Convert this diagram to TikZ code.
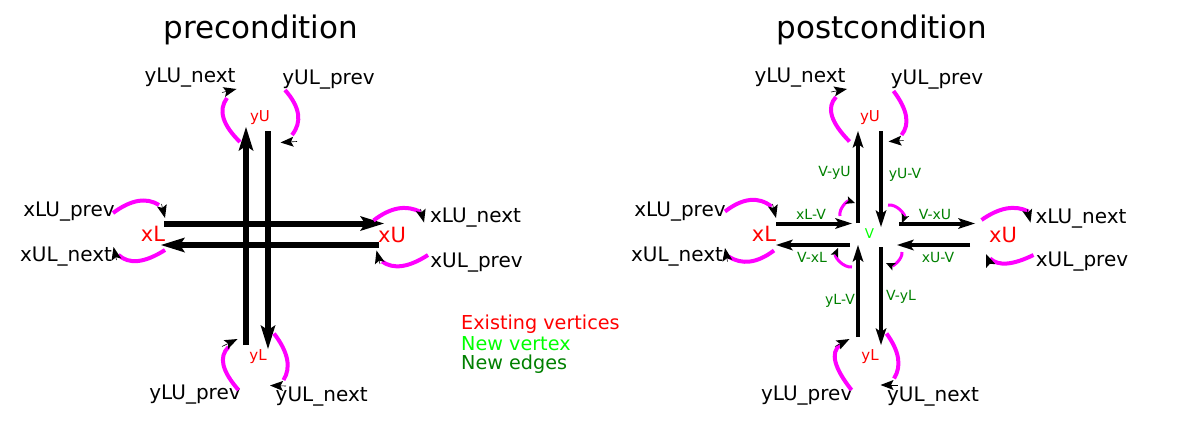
\documentclass[tikz,border=0pt]{standalone}
\usepackage{fontspec}
\setmainfont{DejaVu Sans}
\usetikzlibrary{arrows.meta,calc}
\definecolor{magentaA}{RGB}{255,0,255}
\definecolor{redA}{RGB}{255,0,0}
\definecolor{limeA}{RGB}{0,255,0}
\definecolor{greenA}{RGB}{0,128,0}
\begin{document}
\begin{tikzpicture}[x=1pt,y=-1pt,
  title/.style={font=\fontsize{31}{36}\selectfont, inner sep=0},
  lab/.style={font=\fontsize{20}{24}\selectfont, inner sep=0},
  vbig/.style={text=redA, font=\fontsize{21}{24}\selectfont, inner sep=0},
  vsmall/.style={text=redA, font=\fontsize{15}{17}\selectfont, inner sep=0},
  vnew/.style={text=limeA, font=\fontsize{13.5}{16}\selectfont, inner sep=0},
  elab/.style={text=greenA, font=\fontsize{14}{16}\selectfont, inner sep=0},
  legend/.style={font=\fontsize{19.2}{22}\selectfont, inner sep=0, anchor=west},
  bigedge/.style={line width=6pt, -{Stealth[length=24pt,width=15pt,inset=5pt,line width=0pt]}},
  newedge/.style={line width=4pt, -{Stealth[length=17pt,width=11pt,inset=4pt,line width=0pt]}},
  magarc/.style={magentaA, line width=4pt},
  looptip/.style={black, line width=0.6pt, -{Stealth[length=13pt,width=10pt,inset=2.5pt,line width=0pt]}},
  smallloop/.style={magentaA, line width=3pt, -{Stealth[color=black,length=9pt,width=8pt,inset=2pt,line width=0pt]}}
]
\useasboundingbox (0,0) rectangle (1177,444);

% ---------- titles ----------
\node[title] (t1) at (261,30) {precondition};
\node[title] (t2) at (882,30) {postcondition};

% ---------- precondition ----------
\node[vsmall] (pyU) at (260,118) {yU};
\node[vsmall] (pyL) at (258,357) {yL};
\node[vbig] (pxL) at (153,233.5) {xL};
\node[vbig] (pxU) at (392,235) {xU};

\node[lab] (l1) at (190,78) {yLU\_next};
\node[lab] (l2) at (328.5,80) {yUL\_prev};
\node[lab] (l3) at (69,211.7) {xLU\_prev};
\node[lab] (l4) at (66,256.7) {xUL\_next};
\node[lab] (l5) at (475.5,218) {xLU\_next};
\node[lab] (l6) at (476.5,263) {xUL\_prev};
\node[lab] (l7) at (195,395) {yLU\_prev};
\node[lab] (l8) at (321.7,396.7) {yUL\_next};

\coordinate (pup0) at (246,345);  \coordinate (pup1) at (246,127);
\coordinate (pdn0) at (268,131);  \coordinate (pdn1) at (268,349);
\coordinate (prt0) at (164,223.5); \coordinate (prt1) at (384,223.5);
\coordinate (plt0) at (379,245);  \coordinate (plt1) at (161,245);
\draw[bigedge] (pup0) -- (pup1);
\draw[bigedge] (pdn0) -- (pdn1);
\draw[bigedge] (prt0) -- (prt1);
\draw[bigedge] (plt0) -- (plt1);

% ---------- legend ----------
\node[legend, text=redA] (g1) at (461,324) {Existing vertices};
\node[legend, text=limeA] (g2) at (461,344) {New vertex};
\node[legend, text=greenA] (g3) at (461,364) {New edges};

% ---------- postcondition ----------
\node[vsmall] (qyU) at (870,118) {yU};
\node[vsmall] (qyL) at (870,357) {yL};
\node[vbig] (qxL) at (764,234) {xL};
\node[vbig] (qxU) at (1003,235) {xU};
\node[vnew] (qV) at (869.5,233.5) {V};

\node[lab] (m1) at (800,78) {yLU\_next};
\node[lab] (m2) at (937,80) {yUL\_prev};
\node[lab] (m3) at (680,211.7) {xLU\_prev};
\node[lab] (m4) at (677,256.7) {xUL\_next};
\node[lab] (m5) at (1081,218.3) {xLU\_next};
\node[lab] (m6) at (1082,262) {xUL\_prev};
\node[lab] (m7) at (806.7,396) {yLU\_prev};
\node[lab] (m8) at (933,396.7) {yUL\_next};

\coordinate (qa0) at (858,223);   \coordinate (qa1) at (858,131);
\coordinate (qb0) at (881,131);   \coordinate (qb1) at (881,227);
\coordinate (qc0) at (776,223.5); \coordinate (qc1) at (852,223.5);
\coordinate (qd0) at (850,245);   \coordinate (qd1) at (776,245);
\coordinate (qe0) at (899,223.5); \coordinate (qe1) at (975,223.5);
\coordinate (qf0) at (970,245);   \coordinate (qf1) at (897,245);
\coordinate (qg0) at (858,337);   \coordinate (qg1) at (858,245);
\coordinate (qh0) at (881,247);   \coordinate (qh1) at (881,345);
\draw[newedge] (qa0) -- (qa1);
\draw[newedge] (qb0) -- (qb1);
\draw[newedge] (qc0) -- (qc1);
\draw[newedge] (qd0) -- (qd1);
\draw[newedge] (qe0) -- (qe1);
\draw[newedge] (qf0) -- (qf1);
\draw[newedge] (qg0) -- (qg1);
\draw[newedge] (qh0) -- (qh1);

\node[elab] (e1) at (834.5,173) {V-yU};
\node[elab] (e2) at (905,175) {yU-V};
\node[elab] (e3) at (811,214) {xL-V};
\node[elab] (e4) at (935,214) {V-xU};
\node[elab] (e5) at (812,257) {V-xL};
\node[elab] (e6) at (938,257.5) {xU-V};
\node[elab] (e7) at (840,300.5) {yL-V};
\node[elab] (e8) at (901,297) {V-yL};

% ---------- magenta half-edge arcs: start / apex / end / tip back / tip ----------
\foreach \n/\sx/\sy/\mx/\my/\ex/\ey/\bx/\by/\tx/\ty in {
  pa/240/142/223.5/118/227/98/222/92.5/236.5/89,
  pb/285/90/298/114/292/135/297/141.5/280.5/142.5,
  pc/113/213/138/201/159/205/161.5/204/165/218,
  pd/165/250/138/261/118.5/255/116.5/260/113.5/247,
  pe/373.5/220.5/398/208.5/420.5/212/420.5/209/424/222.5,
  pf/428/255/402/266/382/261.5/380/264/376.5/250.5,
  pg/238.5/390/223.5/365/228.5/347/222/346.5/237.5/339,
  ph/274/333.5/287/359/283.5/380/286/386/270/385.5,
  qa/849.5/141.5/832/116/836/97/831/92/847/89,
  qb/893.5/91/906/116/901.5/135/903.5/140.5/888.5/141.5,
  qc/725/211.5/750/200/771.5/206.5/772.5/204/776/218,
  qd/774/250.5/750/261.5/728.5/256.5/727.5/261.5/725/248,
  qe/981.5/220/1006.5/208.5/1028.5/211.5/1027/209/1030.5/222.5,
  qf/1033.5/255/1007/263.5/990/258.5/990/264/986/254,
  qg/851.5/390/835.5/362/840/345/835/346.5/849.5/339,
  qh/886.5/333.5/898/358/894/378.5/897.5/385/880.5/385}{
  \coordinate (\n S) at (\sx,\sy);
  \coordinate (\n M) at (\mx,\my);
  \coordinate (\n E) at (\ex,\ey);
  \coordinate (\n B) at (\bx,\by);
  \coordinate (\n T) at (\tx,\ty);
  \coordinate (\n Q) at ($2*(\n M)-0.5*(\n S)-0.5*(\n E)$);
  \draw[magarc] (\n S) .. controls ($(\n S)!2/3!(\n Q)$) and ($(\n E)!2/3!(\n Q)$) .. (\n E);
  \draw[looptip] (\n B) -- (\n T);
}

% ---------- small arcs round V ----------
\foreach \n/\sx/\sy/\ex/\ey in {
  ra/840/216/855/203,
  rb/888/205/902/223,
  rc/852/267/838/248,
  rd/902/252/886/263}{
  \coordinate (\n S) at (\sx,\sy);
  \coordinate (\n E) at (\ex,\ey);
  \draw[smallloop] (\n S) to[bend left=60] (\n E);
}
\end{tikzpicture}
\end{document}
